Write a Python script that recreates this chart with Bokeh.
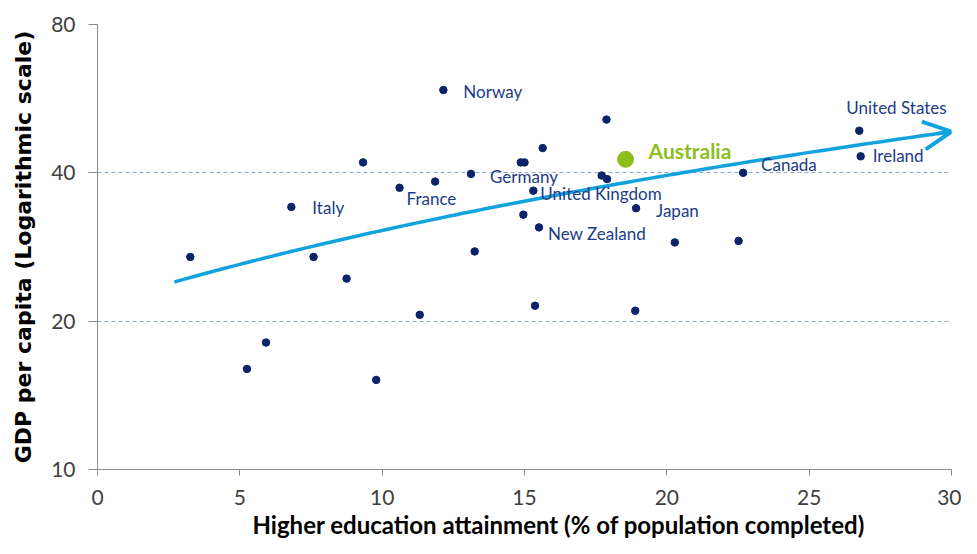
from bokeh.plotting import figure
from bokeh.models import (ColumnDataSource, LabelSet, Range1d, FixedTicker,
                          Arrow, OpenHead, CustomJSTickFormatter, Title)
from bokeh.core.properties import value
from bokeh.embed import file_html
from bokeh.resources import INLINE
import numpy as np

# ---- data ----
edu = [12.15, 17.88, 15.64, 14.87, 15.00, 9.33, 13.12, 11.86, 10.61, 17.71, 17.90,
       15.31, 18.92, 14.96, 15.51, 13.25, 6.81, 3.26, 7.59, 8.75, 5.92, 5.25, 9.79,
       11.32, 15.37, 18.89, 20.28, 22.52, 22.68, 26.76, 26.81]
gdp = [58.9, 51.3, 44.9, 42.0, 42.0, 42.0, 39.8, 38.4, 37.3, 39.5, 38.85,
       36.8, 33.9, 32.9, 31.0, 27.7, 34.1, 27.0, 27.0, 24.4, 18.1, 16.0, 15.2,
       20.6, 21.5, 21.0, 28.9, 29.1, 40.0, 48.7, 43.2]
country = ["Norway", "", "", "", "", "", "Germany", "", "France", "", "",
           "United Kingdom", "Japan", "", "New Zealand", "", "Italy", "", "", "", "", "", "",
           "", "", "", "", "", "Canada", "United States", "Ireland"]

aus_edu = [18.55]
aus_gdp = [42.6]
aus_name = ["Australia"]

# linear trend (GDP = a + b * education), drawn on the log axis
trend_intercept = 21.6
trend_slope = 0.896
trend_start, trend_end = 2.7, 30.0

x_ticks = [0, 5, 10, 15, 20, 25, 30]
y_ticks = [10, 20, 40, 80]

x_title = "Higher education attainment (% of population completed)"
y_title = "GDP per capita (Logarithmic scale)"

# label offsets (screen px) for labelled points
label_dx = {"Norway": 20, "Germany": 19, "France": 7, "United Kingdom": 7, "Japan": 20,
            "New Zealand": 9, "Italy": 21, "Canada": 18, "United States": -13, "Ireland": 12}
label_dy = {"Norway": -1, "Germany": -3, "France": -11, "United Kingdom": -3, "Japan": -2,
            "New Zealand": -6, "Italy": -1, "Canada": 8, "United States": 23, "Ireland": 1}

NAVY = "#0A2369"
LABEL = "#203C86"
BLUE = "#12A2DE"
GREEN = "#8CBE1E"
GRID = "#8EA6D8"
AXIS = "#8C8C8C"
TICKLBL = "#404040"

p = figure(width=961, height=538, y_axis_type="log",
           x_range=Range1d(0, 30), y_range=Range1d(10, 80),
           output_backend="svg", toolbar_location=None,
           min_border_left=97, min_border_right=10, min_border_top=24, min_border_bottom=68)
p.outline_line_color = None
p.background_fill_color = "white"
p.border_fill_color = "white"

# grid
p.xgrid.grid_line_color = None
p.ygrid.ticker = FixedTicker(ticks=y_ticks)
p.ygrid.grid_line_color = GRID
p.ygrid.grid_line_dash = "4 3"
p.ygrid.grid_line_width = 1

# axes
p.xaxis.ticker = FixedTicker(ticks=x_ticks)
p.yaxis.ticker = FixedTicker(ticks=y_ticks)
p.yaxis.minor_tick_line_color = None
p.xaxis.minor_tick_line_color = None
for ax in (p.xaxis[0], p.yaxis[0]):
    ax.axis_line_color = AXIS
    ax.major_tick_line_color = AXIS
    ax.major_tick_in = 0
    ax.major_label_text_font = "Lato"
    ax.major_label_text_font_size = "21px"
    ax.major_label_text_color = TICKLBL
p.xaxis.major_tick_out = 6
p.yaxis.major_tick_out = 9
p.xaxis.major_label_standoff = 14
p.yaxis.major_label_standoff = 13
p.yaxis.formatter = CustomJSTickFormatter(code="return tick.toFixed(0);")

p.yaxis.axis_label = y_title
p.yaxis.axis_label_text_font = "DejaVu Sans"
p.yaxis.axis_label_text_font_style = "bold"
p.yaxis.axis_label_text_color = "black"
p.yaxis.axis_label_text_font_size = "22px"
p.yaxis.axis_label_standoff = 12

# x-axis title (offset to the right, as in the reference)
p.add_layout(Title(text=x_title, align="left", offset=155, text_font="Lato",
                   text_font_size="24px", text_font_style="bold", text_color="black",
                   standoff=0), "below")

# trend line with arrow head
tx = np.linspace(trend_start, trend_end, 120)
ty = trend_intercept + trend_slope * tx
p.line(tx, ty, line_color=BLUE, line_width=3.5)
p.add_layout(Arrow(end=OpenHead(line_color=BLUE, line_width=4, size=28),
                   x_start=tx[-3], y_start=ty[-3], x_end=tx[-1], y_end=ty[-1],
                   line_color=BLUE, line_width=3.5))

# points
src = ColumnDataSource(data=dict(
    x=edu, y=gdp, name=country,
    dx=[label_dx.get(c, 0) for c in country],
    dy=[label_dy.get(c, 0) for c in country]))
p.scatter("x", "y", source=src, size=7.5, fill_color=NAVY, line_color=NAVY)

labels = LabelSet(x="x", y="y", text="name", source=src, x_offset="dx", y_offset="dy",
                  text_font=value("Lato"), text_font_size=value("17px"), text_color=LABEL,
                  text_align="left", text_baseline="middle")
p.add_layout(labels)

# Australia
asrc = ColumnDataSource(data=dict(x=aus_edu, y=aus_gdp, name=aus_name))
p.scatter("x", "y", source=asrc, size=16, fill_color=GREEN, line_color=GREEN)
p.add_layout(LabelSet(x="x", y="y", text="name", source=asrc, x_offset=23, y_offset=9,
                      text_font=value("Lato"), text_font_size=value("21px"),
                      text_font_style="bold",
                      text_color=GREEN, text_align="left", text_baseline="middle"))

open("out.html", "w").write(file_html(p, INLINE))
